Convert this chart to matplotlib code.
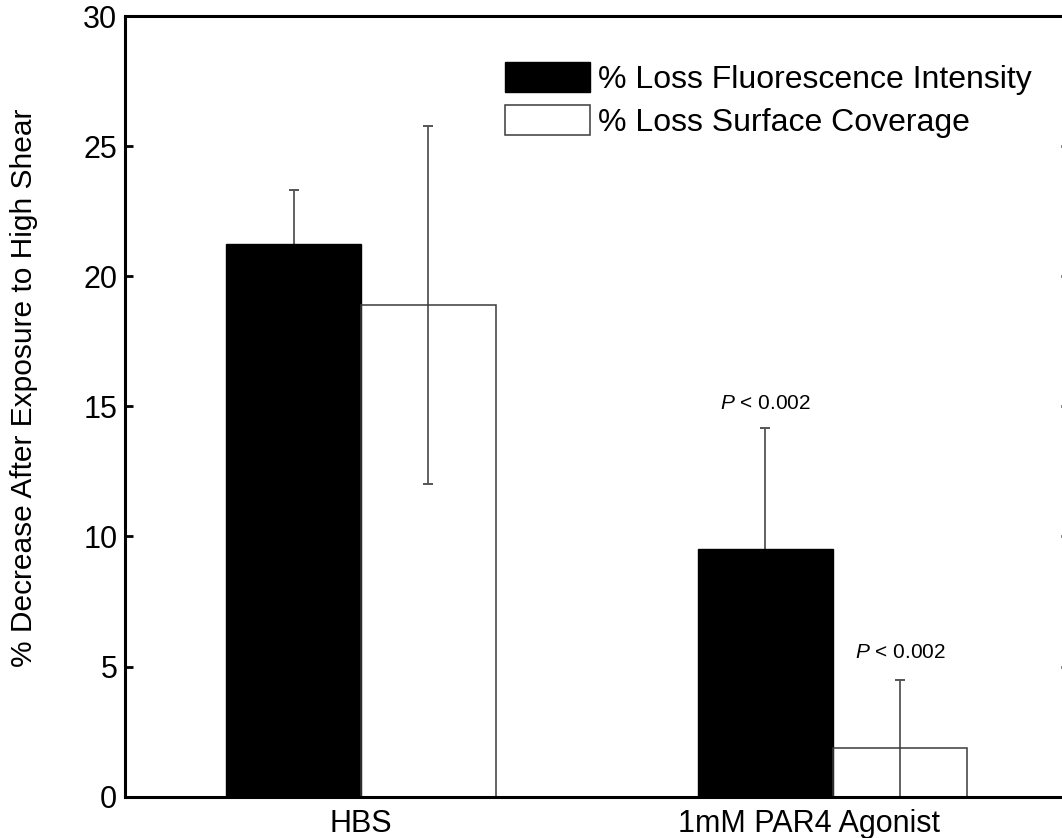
import matplotlib
matplotlib.use("Agg")
import matplotlib.pyplot as plt
import matplotlib.transforms as mtransforms
import numpy as np

# Data
groups = ["HBS", "1mM PAR4 Agonist"]
series_names = ["% Loss Fluorescence Intensity", "% Loss Surface Coverage"]
fluor_mean = [21.25, 9.5]
fluor_err = [2.08, 4.65]
cover_mean = [18.9, 1.86]
cover_err = [6.89, 2.62]
p_labels = ["", "$P$ < 0.002"]          # above fluorescence bars
p_labels_cover = ["", "$P$ < 0.002"]    # above coverage bars
yticks = [0, 5, 10, 15, 20, 25, 30]

plt.rcParams["font.family"] = ["Liberation Sans", "DejaVu Sans"]
plt.rcParams["mathtext.fontset"] = "custom"
plt.rcParams["mathtext.it"] = "Liberation Sans:italic"
plt.rcParams["mathtext.rm"] = "Liberation Sans"

W, H = 1062, 838
fig = plt.figure(figsize=(W / 100, H / 100), dpi=100)
left, right, top, bottom = 125, 1068.6, 16, 796.7
ax = fig.add_axes([left / W, 1 - bottom / H, (right - left) / W, (bottom - top) / H])

x = np.arange(1, len(groups) + 1)
bw = 2 / 7.0
off = bw / 2

b1 = ax.bar(x - off, fluor_mean, bw, color="black", edgecolor="black",
            linewidth=1, zorder=2, label=series_names[0])
b2 = ax.bar(x + off, cover_mean, bw, facecolor="none", edgecolor="#3a3a3a",
            linewidth=1.1, zorder=2, label=series_names[1])

err_kw = dict(fmt="none", ecolor="#555555", elinewidth=1.3, capsize=3.4,
              capthick=1.4, zorder=1.5)
ax.errorbar(x - off, fluor_mean, yerr=fluor_err, **err_kw)
ax.errorbar(x + off, cover_mean, yerr=cover_err, **err_kw)

for xi, m, e, t in zip(x - off, fluor_mean, fluor_err, p_labels):
    if t:
        ax.annotate(t, (xi, m + e), xytext=(0, 14), textcoords="offset points",
                    ha="center", va="baseline", fontsize=15)
for xi, m, e, t in zip(x + off, cover_mean, cover_err, p_labels_cover):
    if t:
        ax.annotate(t, (xi, m + e), xytext=(0, 16), textcoords="offset points",
                    ha="center", va="baseline", fontsize=15)

ax.set_xlim(0.5, 2.5)
ax.set_ylim(0, 30)
ax.set_yticks(yticks)
ax.set_xticks(x)
ax.set_xticklabels(groups)

for s in ax.spines.values():
    s.set_linewidth(2.2)
ax.tick_params(axis="y", direction="in", length=5.5, width=2, labelsize=22,
               pad=5.5, left=True, right=True)
ax.tick_params(axis="x", length=0, labelsize=22, pad=9)

# nudge second group label to the left
tk = ax.xaxis.get_major_ticks()[1]
tk.label1.set_transform(tk.label1.get_transform() +
                        mtransforms.ScaledTranslation(-24 / 100, 0, fig.dpi_scale_trans))

fig.text(24 / W, 1 - 387.5 / H, "% Decrease After Exposure to High Shear",
         rotation=90, ha="center", va="center", fontsize=21.5)

fs = 23
fs_px = fs * 100 / 72
ax.legend(handles=[b1, b2], loc="upper left",
          bbox_to_anchor=(505 / W, 1 - 62 / H), bbox_transform=fig.transFigure,
          frameon=False, fontsize=fs, borderpad=0, borderaxespad=0,
          handlelength=85 / fs_px, handleheight=34 / fs_px,
          handletextpad=8 / fs_px, labelspacing=0.33)

fig.savefig("out.png", dpi=100)
